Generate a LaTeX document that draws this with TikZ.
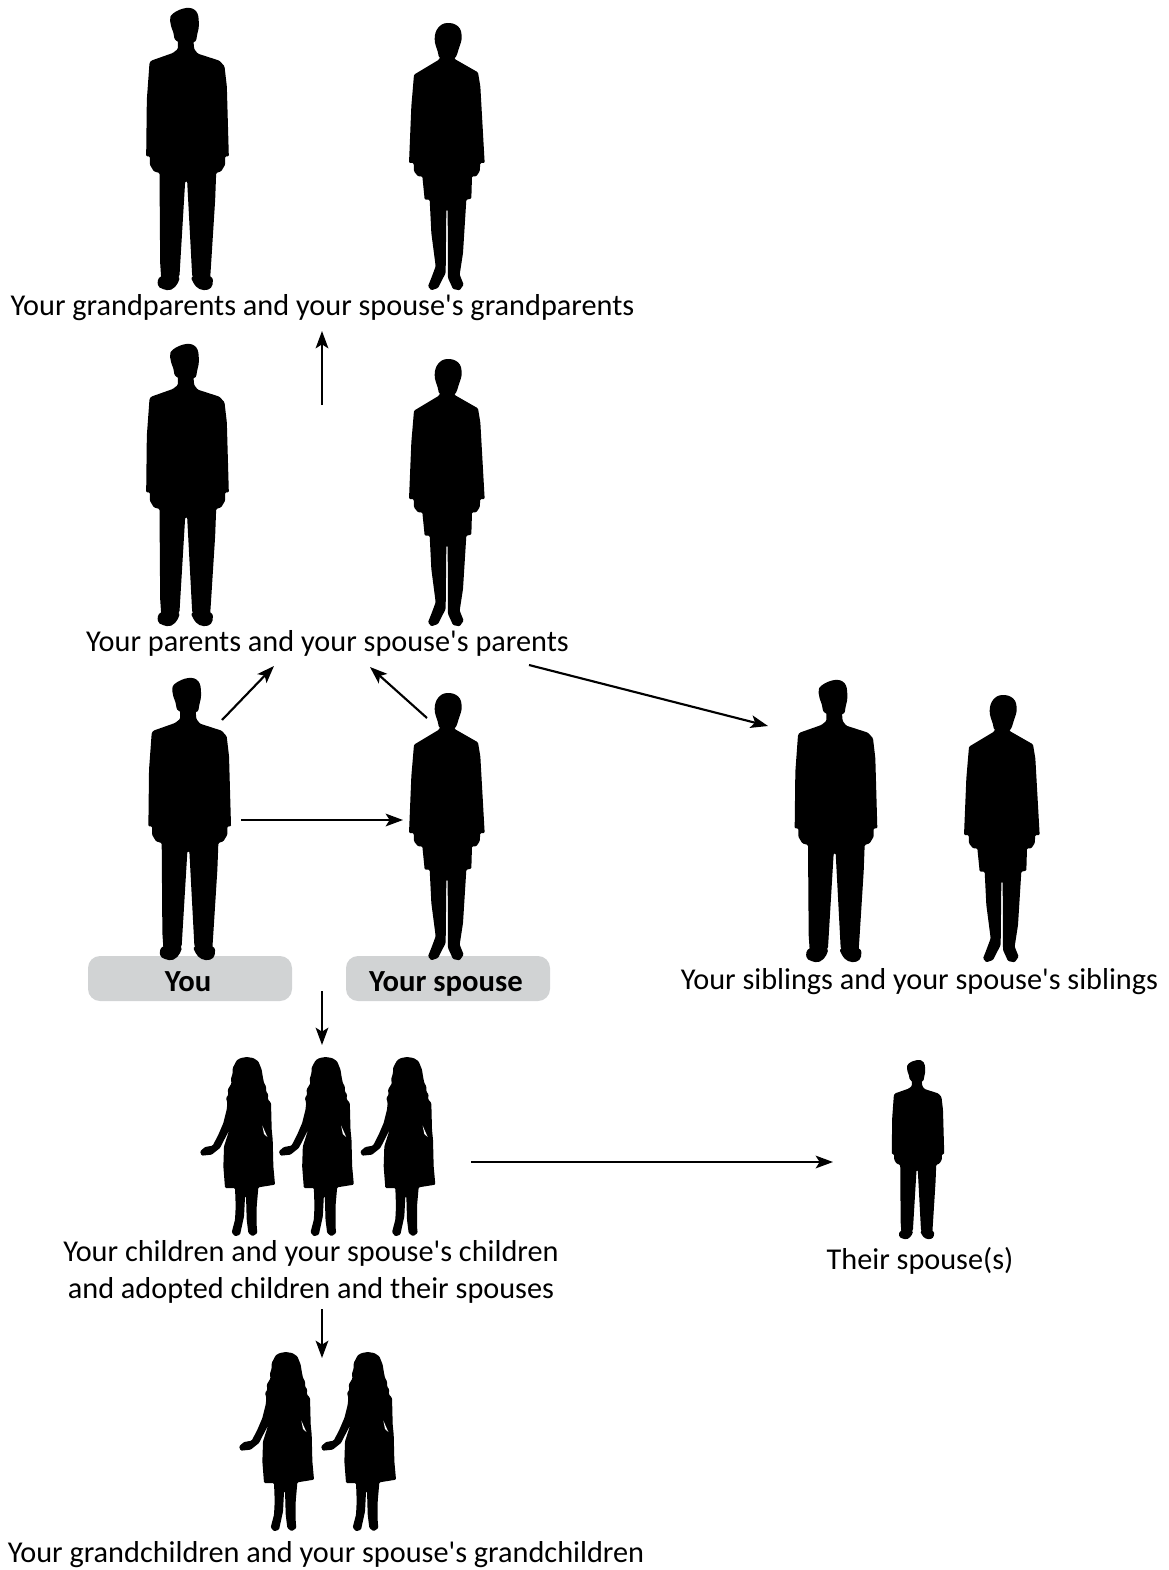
\documentclass[tikz,border=0pt]{standalone}
\usepackage{fontspec}
\setmainfont{Carlito}
\usetikzlibrary{arrows.meta}
\definecolor{boxgrey}{HTML}{D1D3D4}
\tikzset{
  man/.pic={\begin{scope}[shift={(-179,-25)}]
    \fill[black,rounded corners=0.8pt]
    (150,115)--(196,115)--(199,148)--(210,162)--(275,183)--(290,200)--(297,260)--(303,470)--(292,470)--(292,495)--(280,515)--(265,520)--(262,600)--(250,790)--(247,835)--(197,835)--(193,828)--(178,545)--(172,545)--(155,828)--(150,835)--(100,835)--(97,790)--(95,520)--(78,515)--(66,495)--(66,470)--(55,470)--(57,300)--(65,190)--(70,183)--(135,160)--(150,148)--cycle;
    \fill[black] plot[smooth cycle,tension=0.7] coordinates {(148,125)(136,97)(127,65)(135,42)(175,25)(205,35)(213,70)(208,105)(197,128)};
    \fill[black] plot[smooth cycle,tension=0.7] coordinates {(100,830)(149,830)(150,850)(130,870)(105,868)(90,855)};
    \fill[black] plot[smooth cycle,tension=0.7] coordinates {(196,830)(247,830)(254,855)(240,870)(215,868)(197,850)};
    \end{scope}},
  suit/.pic={\begin{scope}[shift={(-952,-70)}]
    \fill[black,rounded corners=0.8pt]
    (934,165)--(972,165)--(975,178)--(1045,218)--(1052,260)--(1065,490)--(1052,490)--(1050,515)--(1040,530)--(1027,530)--(1025,597)--(1010,600)--(1000,760)--(990,825)--(1002,855)--(990,872)--(970,868)--(955,835)--(954,630)--(950,630)--(948,820)--(925,865)--(905,872)--(895,860)--(905,835)--(918,800)--(905,700)--(900,600)--(885,600)--(878,530)--(865,530)--(853,515)--(852,490)--(838,490)--(845,320)--(853,225)--(928,180)--cycle;
    \fill[black] plot[smooth cycle,tension=0.7] coordinates {(934,178)(924,155)(915,118)(925,85)(952,70)(985,80)(996,110)(988,145)(972,178)};
    \end{scope}},
  girl/.pic={\begin{scope}[shift={(-170,-52)}]
    \fill[black,rounded corners=0.8pt]
    (170,52)--(190,55)--(205,65)--(215,90)--(218,110)--(222,130)--(228,140)--(228,155)--(235,165)--(233,178)--(243,190)--(245,270)--(248,300)--(250,380)--(255,435)--(205,443)--(200,500)--(200,560)--(202,580)--(188,590)--(175,580)--(170,540)--(168,470)--(165,470)--(162,530)--(150,585)--(135,590)--(125,578)--(135,540)--(137,500)--(135,445)--(105,445)--(100,380)--(102,320)--(118,270)--(90,325)--(65,345)--(35,348)--(30,335)--(45,322)--(68,318)--(85,285)--(100,250)--(110,210)--(112,190)--(108,175)--(115,165)--(113,150)--(125,130)--(122,120)--(128,100)--(128,85)--(140,62)--(152,55)--cycle;
    \fill[white] (217,258)--(232,292)--(222,283)--cycle;
    \end{scope}},
  lab/.style={anchor=base,font=\fontsize{22.7pt}{26pt}\selectfont,inner sep=0pt},
  boldlab/.style={lab,font=\fontsize{23pt}{26pt}\selectfont\bfseries},
  pill/.style={fill=boxgrey,rounded corners=9pt,draw=none},
  conn/.style={black,line width=1.6pt,-{Stealth[length=13pt,width=9.5pt,inset=3pt]}}
}
\begin{document}
\begin{tikzpicture}[x=0.75pt,y=-0.75pt]
\useasboundingbox (0,0) rectangle (1169,1570);
\fill[pill] (88,956) rectangle (292,1001);
\fill[pill] (346,956) rectangle (550,1001);
\pic[scale=1/3] at (187.5,8) {man};
\pic[scale=1/3] at (447,23) {suit};
\pic[scale=1/3] at (187.5,344) {man};
\pic[scale=1/3] at (447,359) {suit};
\pic[scale=1/3] at (189.7,678) {man};
\pic[scale=1/3] at (447,693) {suit};
\pic[scale=1/3] at (836,680) {man};
\pic[scale=1/3] at (1002,695) {suit};
\pic[scale=0.635/3] at (918,1060) {man};
\foreach \gx in {246.7,325.5,407} {\pic[scale=1/3] at (\gx,1057) {girl};}
\foreach \gx in {285.7,367.7} {\pic[scale=1/3] at (\gx,1352) {girl};}
\node[lab] (tg) at (322.5,315) {Your grandparents and your spouse\textquotesingle s grandparents};
\node[lab] (tp) at (327.5,651) {Your parents and your spouse\textquotesingle s parents};
\node[boldlab] (ty) at (188,991) {You};
\node[boldlab] (ts) at (446,991) {Your spouse};
\node[lab] (tb) at (919.5,989) {Your siblings and your spouse\textquotesingle s siblings};
\node[lab] (tc1) at (311,1261) {Your children and your spouse\textquotesingle s children};
\node[lab] (tc2) at (311,1298) {and adopted children and their spouses};
\node[lab] (tt) at (920,1269) {Their spouse(s)};
\node[lab] (tgc) at (326,1562) {Your grandchildren and your spouse\textquotesingle s grandchildren};
\coordinate (a1) at (322,405); \coordinate (b1) at (322,331);
\coordinate (a2) at (222,720); \coordinate (b2) at (274,666);
\coordinate (a3) at (427,718); \coordinate (b3) at (370,667);
\coordinate (a4) at (529,665); \coordinate (b4) at (768,726);
\coordinate (a5) at (241,820); \coordinate (b5) at (403,820);
\coordinate (a6) at (322,991); \coordinate (b6) at (322,1045);
\coordinate (a7) at (471,1162); \coordinate (b7) at (833,1162);
\coordinate (a8) at (322,1309); \coordinate (b8) at (322,1358);
\foreach \i in {1,...,8} {\draw[conn] (a\i) -- (b\i);}
\end{tikzpicture}
\end{document}
